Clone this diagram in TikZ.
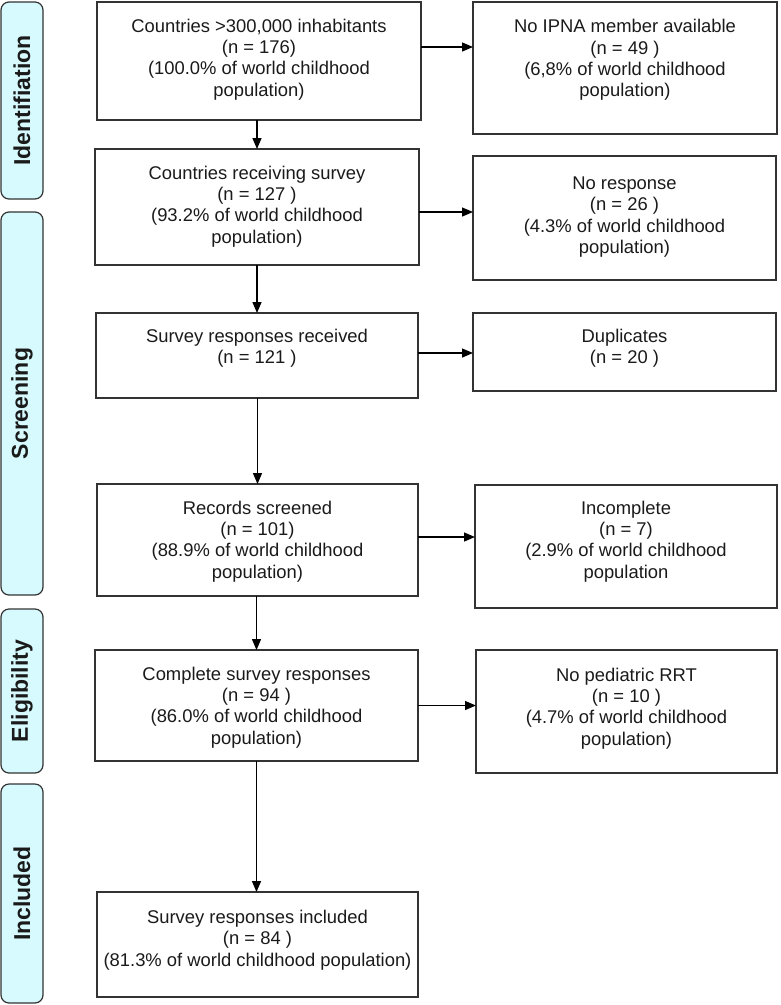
\documentclass[tikz,border=0pt]{standalone}
\usepackage{fontspec}
\setmainfont{Liberation Sans}
\usetikzlibrary{arrows.meta}
\definecolor{barcyan}{HTML}{D6FAFE}
\definecolor{boxline}{HTML}{333333}
\definecolor{txtcol}{HTML}{1A1A1A}
\tikzset{
  box/.style={draw=boxline, line width=1.3pt, rectangle, inner sep=0pt, outer sep=0pt},
  txt/.style={align=center, inner sep=0pt, text=txtcol, font=\fontsize{18.4}{21.3}\selectfont},
  bar/.style={draw=boxline, line width=1.2pt, fill=barcyan, rounded corners=8pt, rotate=90,
              minimum height=42pt, inner sep=0pt, outer sep=0pt, text=txtcol,
              font=\fontsize{23}{26}\selectfont\bfseries},
  arr/.style={draw=black, line width=1.3pt, -{Triangle[length=11pt,width=9pt]}}
}
\begin{document}
\begin{tikzpicture}[x=1pt,y=-1pt]
\useasboundingbox (0,0) rectangle (780,1005);
% stage bars
\node[bar, minimum width=197pt] (s1) at (22,100.5) {Identifiation};
\node[bar, minimum width=383pt] (s2) at (22,403.5) {Screening};
\node[bar, minimum width=164pt] (s3) at (22,691) {Eligibility};
\node[bar, minimum width=219pt] (s4) at (22,893.5) {Included};
% main boxes
\node[box, minimum width=324pt, minimum height=118pt] (b1) at (259,61) {};
\node[box, minimum width=304pt, minimum height=132pt] (b2) at (625,68) {};
\node[box, minimum width=324pt, minimum height=116pt] (b3) at (257,207) {};
\node[box, minimum width=303pt, minimum height=124pt] (b4) at (624.5,218) {};
\node[box, minimum width=322pt, minimum height=85pt] (b5) at (257,355.5) {};
\node[box, minimum width=303pt, minimum height=78pt] (b6) at (624.5,352) {};
\node[box, minimum width=321pt, minimum height=112pt] (b7) at (257.5,540) {};
\node[box, minimum width=302pt, minimum height=123pt] (b8) at (626,546.5) {};
\node[box, minimum width=323pt, minimum height=111pt] (b9) at (256.5,705.5) {};
\node[box, minimum width=301pt, minimum height=123pt] (b10) at (626.5,711.5) {};
\node[box, minimum width=321pt, minimum height=105pt] (b11) at (257.5,944.5) {};
% texts
\node[txt] (t1) at ([yshift=1.5pt]b1.center) {Countries >300,000 inhabitants\\(n = 176)\\(100.0\% of world childhood\\population)};
\node[txt] (t2) at ([yshift=8pt]b2.center) {No IPNA member available\\(n = 49 )\\(6,8\% of world childhood\\population)};
\node[txt] (t3) at ([yshift=0.5pt]b3.center) {Countries receiving survey\\(n = 127 )\\(93.2\% of world childhood\\population)};
\node[txt] (t4) at ([yshift=1pt]b4.center) {No response\\(n = 26 )\\(4.3\% of world childhood\\population)};
\node[txt] (t5) at ([yshift=7.5pt]b5.center) {Survey responses received\\(n = 121 )};
\node[txt] (t6) at ([yshift=4pt]b6.center) {Duplicates\\(n = 20 )};
\node[txt] (t7) at ([yshift=-1.5pt]b7.center) {Records screened\\(n = 101)\\(88.9\% of world childhood\\population)};
\node[txt] (t8) at ([yshift=5pt]b8.center) {Incomplete\\(n = 7)\\(2.9\% of world childhood\\population};
\node[txt] (t9) at ([yshift=-2pt]b9.center) {Complete survey responses\\(n = 94 )\\(86.0\% of world childhood\\population)};
\node[txt] (t10) at ([yshift=3pt]b10.center) {No pediatric RRT\\(n = 10 )\\(4.7\% of world childhood\\population)};
\node[txt] (t11) at ([yshift=4.5pt]b11.center) {Survey responses included\\(n = 84 )\\(81.3\% of world childhood population)};
% connectors
\draw[arr] ([yshift=14pt]b1.east) -- ([yshift=14pt]b1.east -| b2.west);
\draw[arr] (b3.north |- b1.south) -- (b3.north);
\draw[arr] ([yshift=-5pt]b3.east) -- ([yshift=-5pt]b3.east -| b4.west);
\draw[arr] (b3.south) -- (b5.north);
\draw[arr] ([yshift=2.5pt]b5.east) -- ([yshift=2.5pt]b5.east -| b6.west);
\draw[arr] ([xshift=0.5pt]b5.south) -- ([xshift=0.5pt]b5.south |- b7.north);
\draw[arr] ([yshift=3pt]b7.east) -- ([yshift=3pt]b7.east -| b8.west);
\draw[arr] (b9.north |- b7.south) -- (b9.north);
\draw[arr] (b9.east) -- (b9.east -| b10.west);
\draw[arr] (b9.south) -- (b9.south |- b11.north);
\end{tikzpicture}
\end{document}
